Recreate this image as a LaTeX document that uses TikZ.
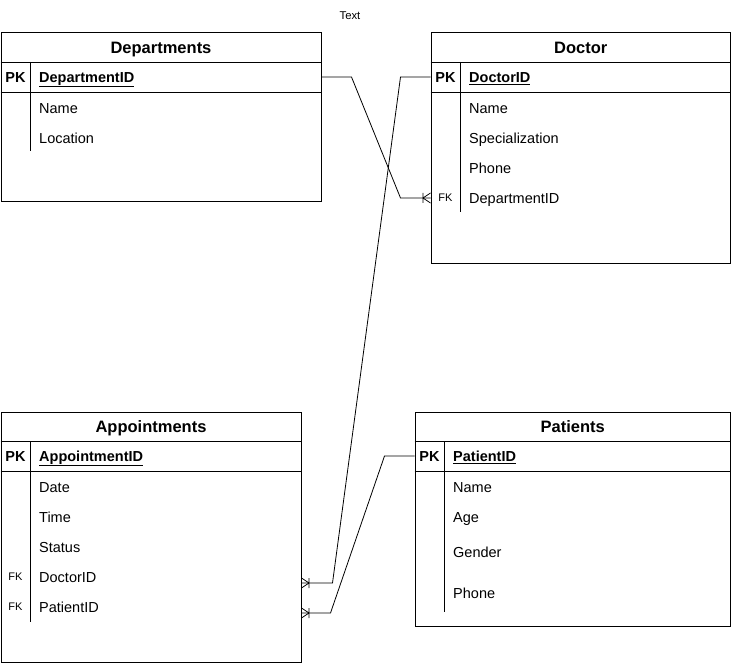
\documentclass[tikz,border=0pt]{standalone}
\usepackage{fontspec}
\setmainfont{Liberation Sans}

\tikzset{
	tbl/.style={draw, line width=1pt, anchor=north west, inner sep=0pt},
	hdr/.style={inner sep=0pt, font=\fontsize{16.5}{20}\selectfont\bfseries, text height=11.8pt, text depth=0pt},
	field/.style={anchor=west, inner sep=0pt, font=\fontsize{14.5}{17}\selectfont, text height=10.4pt, text depth=0pt},
	keyfield/.style={field, font=\fontsize{14.5}{17}\selectfont\bfseries},
	pklbl/.style={inner sep=0pt, font=\fontsize{14.5}{17}\selectfont\bfseries, text height=10.4pt, text depth=0pt},
	fklbl/.style={inner sep=0pt, font=\fontsize{11}{13}\selectfont, text height=7.9pt, text depth=0pt},
	note/.style={inner sep=0pt, font=\fontsize{11.3}{13}\selectfont},
	link/.style={line width=0.8pt}
}

\begin{document}
\begin{tikzpicture}[x=1pt,y=-1pt]
	\useasboundingbox (0,0) rectangle (731,663);
	\node[note] (note) at (350,16) {Text};
	% tables
	\foreach \name/\x/\y/\w/\h/\d/\title/\key in {
		dept/0.5/32.5/320/169/119/Departments/DepartmentID,
		doc/430.5/32.5/299.5/230/180/Doctor/DoctorID,
		appt/0.5/411.5/300/250.5/210/Appointments/AppointmentID,
		pat/414.5/411.5/315.5/214/200/Patients/PatientID}
	{
		\node[tbl, minimum width=\w pt, minimum height=\h pt] (\name) at (\x,\y) {};
		\node[hdr] (\name-title) at ([yshift=-15pt]\name.north) {\title};
		\draw ([yshift=-29.5pt]\name.north west) -- ([yshift=-29.5pt]\name.north east);
		\draw ([yshift=-59.5pt]\name.north west) -- ([yshift=-59.5pt]\name.north east);
		\draw ([xshift=30pt,yshift=-29.5pt]\name.north west) -- ([xshift=30pt,yshift=-\d pt]\name.north west);
		\node[pklbl] (\name-pklbl) at ([xshift=15pt,yshift=-44.5pt]\name.north west) {PK};
		\node[keyfield] (\name-pk) at ([xshift=38.5pt,yshift=-44.5pt]\name.north west) {\underline{\key}};
	}
	% fields
	\foreach \n/\x/\y/\t in {
		dept-name/39/108/Name, dept-loc/39/138/Location,
		doc-name/469/108/Name, doc-spec/469/138/Specialization, doc-phone/469/168/Phone, doc-deptid/469/198/DepartmentID,
		appt-date/39/487/Date, appt-time/39/517/Time, appt-status/39/547/Status, appt-docid/39/577/DoctorID, appt-patid/39/607/PatientID,
		pat-name/453/487/Name, pat-age/453/517/Age, pat-gender/453/552/Gender, pat-phone/453/593/Phone}
	\node[field] (\n) at (\x,\y) {\t};
	\node[fklbl] (doc-fk) at (445.5,198) {FK};
	\node[fklbl] (appt-fk1) at (15.5,577) {FK};
	\node[fklbl] (appt-fk2) at (15.5,607) {FK};
	% relations
	\coordinate (e1) at (doc-deptid -| doc.west);
	\path (appt-docid -| appt.east) ++(0,6) coordinate (e2);
	\path (appt-patid -| appt.east) ++(0,6) coordinate (e3);
	\draw[link] (dept-pk -| dept.east) -- ++(30,0) -- ([xshift=-30pt]e1) -- (e1);
	\draw[link] (doc-pk -| doc.west) -- ++(-30,0) -- ([xshift=31pt]e2) -- (e2);
	\draw[link] (pat-pk -| pat.west) -- ++(-30,0) -- ([xshift=29pt]e3) -- (e3);
	\foreach \c/\d in {e1/-7.5, e2/7.5, e3/7.5}
	\draw[link] ([yshift=5pt]\c) -- ([xshift=\d pt]\c) -- ([yshift=-5pt]\c)
		([xshift=\d pt,yshift=5pt]\c) -- ([xshift=\d pt,yshift=-5pt]\c);
\end{tikzpicture}
\end{document}
